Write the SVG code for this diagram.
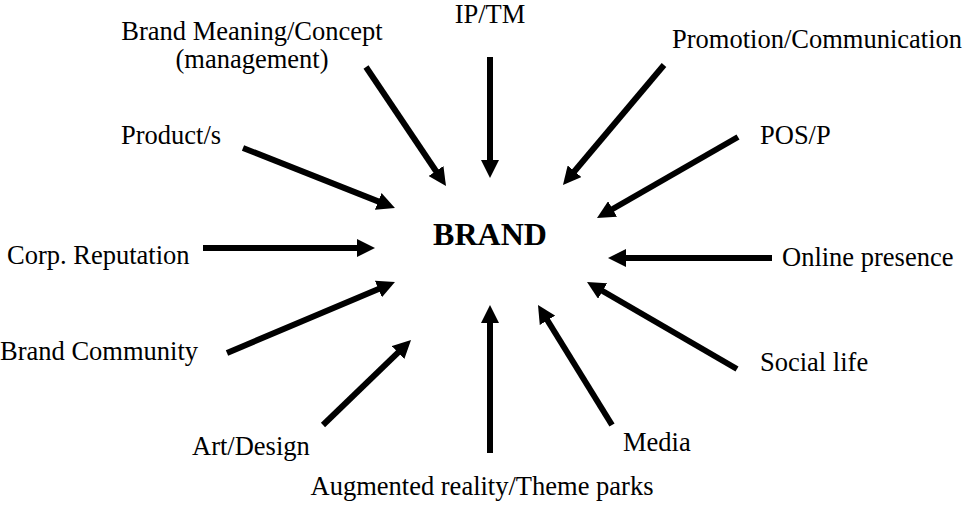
<svg xmlns="http://www.w3.org/2000/svg" width="964" height="511" viewBox="0 0 964 511">
<style>
text{font-family:"Liberation Serif","Times New Roman",serif;font-size:26.5px;fill:#000}
.c{text-anchor:middle}
.b{font-weight:bold;font-size:32px}
#connectors line{stroke:#000;stroke-width:6;stroke-linecap:butt;marker-end:url(#ah)}
</style>
<defs>
<marker id="ah" viewBox="0 0 10 10" markerWidth="3" markerHeight="3" refX="3.33" refY="5" orient="auto"><path d="M0,0 L10,5 L0,10 z" fill="#000"/></marker>
</defs>
<rect width="964" height="511" fill="#fff"/>
<g id="brand"><text class="b" x="490" y="245" text-anchor="middle">BRAND</text></g>
<g id="n-meaning"><text class="c" x="252" y="40">Brand Meaning/Concept</text><text class="c" x="252" y="68">(management)</text></g>
<g id="n-iptm"><text class="c" x="490" y="23">IP/TM</text></g>
<g id="n-promo"><text x="672" y="48">Promotion/Communication</text></g>
<g id="n-pos"><text x="760" y="144">POS/P</text></g>
<g id="n-product"><text x="121" y="144">Product/s</text></g>
<g id="n-corp"><text x="7" y="264">Corp. Reputation</text></g>
<g id="n-online"><text x="782" y="266">Online presence</text></g>
<g id="n-community"><text x="0" y="360">Brand Community</text></g>
<g id="n-social"><text x="760" y="371">Social life</text></g>
<g id="n-art"><text x="192" y="455">Art/Design</text></g>
<g id="n-media"><text x="623" y="451">Media</text></g>
<g id="n-ar"><text class="c" x="482" y="495">Augmented reality/Theme parks</text></g>
<g id="connectors">
<line x1="366" y1="67" x2="439.3" y2="176"/>
<line x1="490" y1="57" x2="490" y2="166"/>
<line x1="664" y1="65" x2="570.7" y2="175.8"/>
<line x1="738" y1="137" x2="607.4" y2="212"/>
<line x1="243" y1="148" x2="383.8" y2="203.6"/>
<line x1="203" y1="248" x2="363" y2="248"/>
<line x1="772" y1="258" x2="620" y2="258"/>
<line x1="227" y1="353" x2="383.9" y2="286.7"/>
<line x1="323" y1="425" x2="402.4" y2="348.3"/>
<line x1="490" y1="453" x2="490" y2="317"/>
<line x1="612" y1="425" x2="544.3" y2="315.2"/>
<line x1="737" y1="369" x2="597.4" y2="288"/>
</g>
</svg>
